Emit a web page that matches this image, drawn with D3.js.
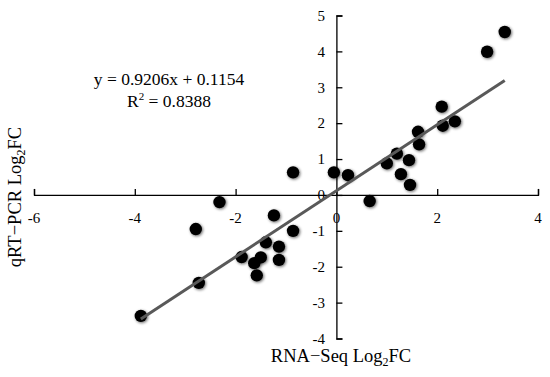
<!DOCTYPE html>
<html><head><meta charset="utf-8">
<script src="https://cdn.jsdelivr.net/npm/d3@7"></script>
<style>
html,body{margin:0;padding:0;background:#fff;}
svg{display:block;font-family:"Liberation Serif","Times New Roman",serif;}
</style></head>
<body><svg id="c" width="550" height="377"></svg>
<script>
const rnaSeq = [3.34,2.99,2.09,2.11,2.35,1.62,1.64,1.20,1.00,1.44,1.28,1.46,0.66,0.23,-0.05,
  -0.86,-0.86,-1.24,-1.40,-1.14,-1.14,-1.50,-1.63,-1.58,-1.88,-2.32,-2.79,-2.73,-3.88];
const qPCR = [4.54,3.99,2.46,1.93,2.05,1.76,1.41,1.15,0.88,0.97,0.58,0.28,-0.17,0.55,0.63,
  0.63,-1.00,-0.57,-1.32,-1.44,-1.81,-1.74,-1.90,-2.24,-1.73,-0.20,-0.95,-2.45,-3.37];
const xTicks = [-6,-4,-2,0,2,4];
const yTicks = [-4,-3,-2,-1,0,1,2,3,4,5];
const slope = 0.9206, intercept = 0.1154;
const eqText = "y = 0.9206x + 0.1154";
const r2Value = "0.8388";

const svg = d3.select("#c");
const x = d3.scaleLinear().domain([-6,4]).range([34,538]);
const y = d3.scaleLinear().domain([-4,5]).range([338.5,15.5]);

const defs = svg.append("defs");
const f = defs.append("filter").attr("id","sh").attr("x","-60%").attr("y","-60%").attr("width","220%").attr("height","220%");
f.append("feGaussianBlur").attr("in","SourceAlpha").attr("stdDeviation",1.8).attr("result","b");
f.append("feOffset").attr("in","b").attr("dx",1).attr("dy",1.2).attr("result","o");
f.append("feComponentTransfer").attr("in","o").attr("result","t")
  .append("feFuncA").attr("type","linear").attr("slope",0.6);
const m = f.append("feMerge");
m.append("feMergeNode").attr("in","t");
m.append("feMergeNode").attr("in","SourceGraphic");

// x axis
const gx = svg.append("g").attr("transform",`translate(0,${y(0)})`)
  .call(d3.axisBottom(x).tickValues(xTicks).tickSizeInner(-6).tickSizeOuter(-6).tickFormat(""));
gx.selectAll("path,line").attr("stroke","#000").attr("stroke-width",1.3);
svg.append("g").selectAll("text").data(xTicks).join("text")
  .attr("x",d=>x(d)).attr("y",223).attr("text-anchor","middle")
  .attr("font-size",15).text(d=>String(d));

// y axis
const gy = svg.append("g").attr("transform",`translate(${x(0)},0)`)
  .call(d3.axisRight(y).tickValues(yTicks).tickSizeInner(6).tickSizeOuter(6).tickFormat(""));
gy.selectAll("path,line").attr("stroke","#000").attr("stroke-width",1.3);
svg.append("g").selectAll("text").data(yTicks).join("text")
  .attr("x",325).attr("y",d=>y(d)).attr("dy","0.35em").attr("text-anchor","end")
  .attr("font-size",15).text(d=>String(d));

// points
svg.append("g").selectAll("circle").data(rnaSeq.map((v,i)=>[v,qPCR[i]])).join("circle")
  .attr("cx",d=>x(d[0])).attr("cy",d=>y(d[1])).attr("r",6.2)
  .attr("fill","#000").attr("filter","url(#sh)");

// trend line
const ext = d3.extent(rnaSeq);
svg.append("line")
  .attr("x1",x(ext[0])).attr("y1",y(slope*ext[0]+intercept))
  .attr("x2",x(ext[1])).attr("y2",y(slope*ext[1]+intercept))
  .attr("stroke","#595959").attr("stroke-width",3);

// equation
svg.append("text").attr("x",169).attr("y",85).attr("text-anchor","middle").attr("font-size",17.5).text(eqText);
const r2 = svg.append("text").attr("x",169).attr("y",107).attr("text-anchor","middle").attr("font-size",17.5);
r2.append("tspan").text("R");
r2.append("tspan").attr("font-size",11).attr("dy",-7).text("2");
r2.append("tspan").attr("dy",7).text(" = " + r2Value);

// axis titles
const xt = svg.append("text").attr("x",341).attr("y",362).attr("text-anchor","middle").attr("font-size",18.5);
xt.append("tspan").text("RNA\u2212Seq Log");
xt.append("tspan").attr("font-size",12).attr("dy",4).text("2");
xt.append("tspan").attr("dy",-4).text("FC");

const yt = svg.append("text").attr("transform","translate(21,197) rotate(-90)").attr("text-anchor","middle").attr("font-size",18.5);
yt.append("tspan").text("qRT\u2212PCR Log");
yt.append("tspan").attr("font-size",12).attr("dy",4).text("2");
yt.append("tspan").attr("dy",-4).text("FC");
</script></body></html>
